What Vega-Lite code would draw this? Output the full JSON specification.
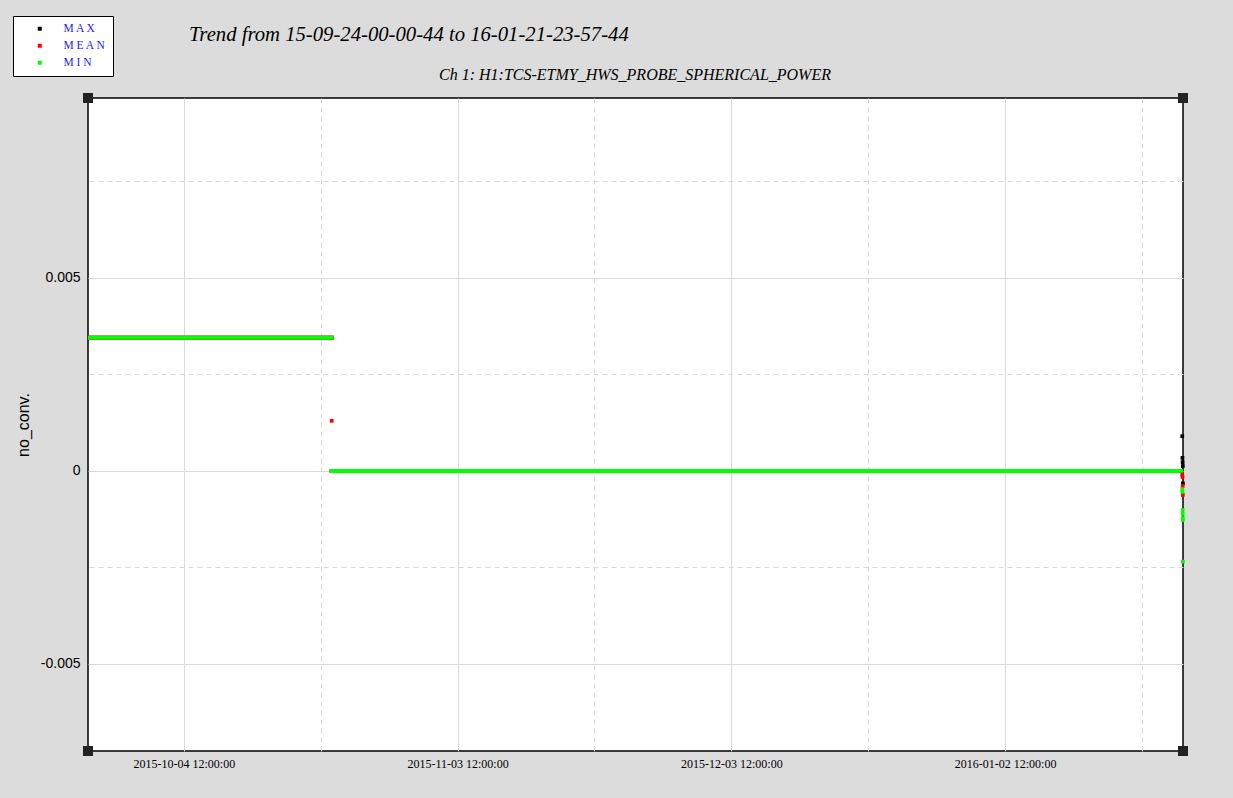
{
  "$schema": "https://vega.github.io/schema/vega-lite/v6.json",
  "width": 1095,
  "height": 653,
  "autosize": "none",
  "padding": {"left": 88, "top": 98, "right": 50, "bottom": 47},
  "background": "#dcdcdc",
  "view": {"fill": "white", "stroke": "black", "strokeWidth": 1.5},
  "title": {
    "text": "Trend from 15-09-24-00-00-44 to 16-01-21-23-57-44",
    "anchor": "start",
    "frame": "group",
    "dx": 101,
    "offset": 0,
    "dy": 30,
    "font": "Liberation Serif",
    "fontStyle": "italic",
    "fontWeight": "normal",
    "fontSize": 20.7,
    "color": "black"
  },
  "datasets": {
    "segments": [
      {"seg": "A", "series": "MAX", "t": "2015-09-24T00:00:44Z", "value": 0.00345},
      {"seg": "A", "series": "MAX", "t": "2015-10-20T22:00:00Z", "value": 0.00345},
      {"seg": "B", "series": "MAX", "t": "2015-10-20T11:50:00Z", "value": 0},
      {"seg": "B", "series": "MAX", "t": "2016-01-21T23:57:44Z", "value": 0},
      {"seg": "A", "series": "MEAN", "t": "2015-09-24T00:00:44Z", "value": 0.00345},
      {"seg": "A", "series": "MEAN", "t": "2015-10-20T22:00:00Z", "value": 0.00345},
      {"seg": "B", "series": "MEAN", "t": "2015-10-20T11:50:00Z", "value": 0},
      {"seg": "B", "series": "MEAN", "t": "2016-01-21T23:57:44Z", "value": 0},
      {"seg": "A", "series": "MIN", "t": "2015-09-24T00:00:44Z", "value": 0.00345},
      {"seg": "A", "series": "MIN", "t": "2015-10-20T22:00:00Z", "value": 0.00345},
      {"seg": "B", "series": "MIN", "t": "2015-10-20T11:50:00Z", "value": 0},
      {"seg": "B", "series": "MIN", "t": "2016-01-21T23:57:44Z", "value": 0}
    ],
    "points": [
      {"series": "MAX", "t": "2016-01-21T22:00:00Z", "value": 0.0009},
      {"series": "MAX", "t": "2016-01-21T22:30:00Z", "value": 0.00034},
      {"series": "MAX", "t": "2016-01-21T23:00:00Z", "value": 0.00023},
      {"series": "MAX", "t": "2016-01-21T23:30:00Z", "value": 0.00013},
      {"series": "MAX", "t": "2016-01-21T23:45:00Z", "value": -0.00032},
      {"series": "MEAN", "t": "2015-10-20T17:00:00Z", "value": 0.0013},
      {"series": "MEAN", "t": "2016-01-21T22:00:00Z", "value": -0.00009},
      {"series": "MEAN", "t": "2016-01-21T22:30:00Z", "value": -0.000155},
      {"series": "MEAN", "t": "2016-01-21T23:00:00Z", "value": -0.00039},
      {"series": "MEAN", "t": "2016-01-21T23:30:00Z", "value": -0.00062},
      {"series": "MIN", "t": "2016-01-21T22:00:00Z", "value": -0.00047},
      {"series": "MIN", "t": "2016-01-21T22:30:00Z", "value": -0.00054},
      {"series": "MIN", "t": "2016-01-21T23:00:00Z", "value": -0.00101},
      {"series": "MIN", "t": "2016-01-21T23:10:00Z", "value": -0.00111},
      {"series": "MIN", "t": "2016-01-21T23:20:00Z", "value": -0.00122},
      {"series": "MIN", "t": "2016-01-21T23:30:00Z", "value": -0.00127},
      {"series": "MIN", "t": "2016-01-21T23:45:00Z", "value": -0.00235}
    ],
    "corners": [
      {"t": "2015-09-24T00:00:44Z", "value": 0.009663},
      {"t": "2016-01-21T23:57:44Z", "value": 0.009663},
      {"t": "2015-09-24T00:00:44Z", "value": -0.007254},
      {"t": "2016-01-21T23:57:44Z", "value": -0.007254}
    ]
  },
  "layer": [
    {
      "layer": [
        {
          "data": {"name": "segments"},
          "mark": {"type": "line", "strokeWidth": 4, "strokeCap": "butt"},
          "encoding": {
            "x": {
              "field": "t", "type": "temporal",
              "scale": {"type": "utc", "domain": [{"year": 2015, "month": 9, "date": 24, "hours": 0, "minutes": 0, "seconds": 44, "utc": true}, {"year": 2016, "month": 1, "date": 21, "hours": 23, "minutes": 57, "seconds": 44, "utc": true}]},
              "axis": {
                "orient": "bottom",
                "values": [
                  {"year": 2015, "month": 10, "date": 4, "hours": 12, "utc": true},
                  {"year": 2015, "month": 11, "date": 3, "hours": 12, "utc": true},
                  {"year": 2015, "month": 12, "date": 3, "hours": 12, "utc": true},
                  {"year": 2016, "month": 1, "date": 2, "hours": 12, "utc": true}
                ],
                "format": "%Y-%m-%d %H:%M:%S",
                "labelFont": "Liberation Serif",
                "labelFontSize": 12,
                "labelColor": "black",
                "labelPadding": 7,
                "labelFlush": false,
                "grid": true,
                "gridColor": "#d9d9d9",
                "gridWidth": 1,
                "ticks": false,
                "domain": false,
                "title": null
              }
            },
            "y": {
              "field": "value", "type": "quantitative",
              "scale": {"domain": [-0.007254, 0.009663], "nice": false, "zero": false},
              "axis": {
                "orient": "left",
                "values": [0.005, 0, -0.005],
                "labelExpr": "toString(round(datum.value*1000)/1000)",
                "labelFont": "Liberation Sans",
                "labelFontSize": 14,
                "labelColor": "black",
                "labelPadding": 8,
                "grid": true,
                "gridColor": "#d9d9d9",
                "gridWidth": 1,
                "ticks": false,
                "domain": false,
                "title": "no_conv.",
                "titleFont": "Liberation Sans",
                "titleFontSize": 16,
                "titleFontWeight": "normal",
                "titleColor": "black",
                "titlePadding": 9
              }
            },
            "color": {
              "field": "series", "type": "nominal",
              "scale": {"domain": ["MAX", "MEAN", "MIN"], "range": ["#000000", "#ff0000", "#00ff00"]},
              "legend": {
                "orient": "none",
                "legendX": -75,
                "legendY": -82,
                "title": null,
                "symbolType": "square",
                "symbolSize": 16,
                "symbolStrokeWidth": 0,
                "fillColor": "white",
                "strokeColor": "black",
                "padding": 7,
                "rowPadding": 4,
                "symbolOffset": 14,
                "labelOffset": 18,
                "labelFont": "Liberation Serif",
                "labelFontSize": 11.5,
                "labelColor": "#1a1aff",
                "labelExpr": "join(split(datum.label, ''), ' ')"
              }
            },
            "detail": {"field": "seg"}
          }
        },
        {
          "data": {"name": "points"},
          "mark": {"type": "point", "shape": "square", "filled": true, "opacity": 1, "size": 14},
          "encoding": {
            "x": {"field": "t", "type": "temporal"},
            "y": {"field": "value", "type": "quantitative"},
            "color": {"field": "series", "type": "nominal"}
          }
        }
      ]
    },
    {
      "data": {"name": "corners"},
      "mark": {"type": "point", "shape": "square", "filled": true, "opacity": 1, "size": 100, "color": "#222222"},
      "encoding": {
        "x": {
          "field": "t", "type": "temporal",
          "axis": {
            "orient": "top",
            "values": [
              {"year": 2015, "month": 10, "date": 19, "hours": 12, "utc": true},
              {"year": 2015, "month": 11, "date": 18, "hours": 12, "utc": true},
              {"year": 2015, "month": 12, "date": 18, "hours": 12, "utc": true},
              {"year": 2016, "month": 1, "date": 17, "hours": 12, "utc": true}
            ],
            "labels": false,
            "ticks": false,
            "domain": false,
            "grid": true,
            "gridColor": "#d9d9d9",
            "gridDash": [5, 4],
            "title": "Ch 1: H1:TCS-ETMY_HWS_PROBE_SPHERICAL_POWER",
            "titleX": 546.5,
            "titleFont": "Liberation Serif",
            "titleFontStyle": "italic",
            "titleFontWeight": "normal",
            "titleFontSize": 16,
            "titleColor": "black",
            "titlePadding": 16
          }
        },
        "y": {
          "field": "value", "type": "quantitative",
          "axis": {
            "orient": "right",
            "values": [0.0075, 0.0025, -0.0025],
            "labels": false,
            "ticks": false,
            "domain": false,
            "grid": true,
            "gridColor": "#d9d9d9",
            "gridDash": [5, 4],
            "title": null
          }
        }
      }
    }
  ],
  "resolve": {"axis": {"x": "independent", "y": "independent"}}
}
